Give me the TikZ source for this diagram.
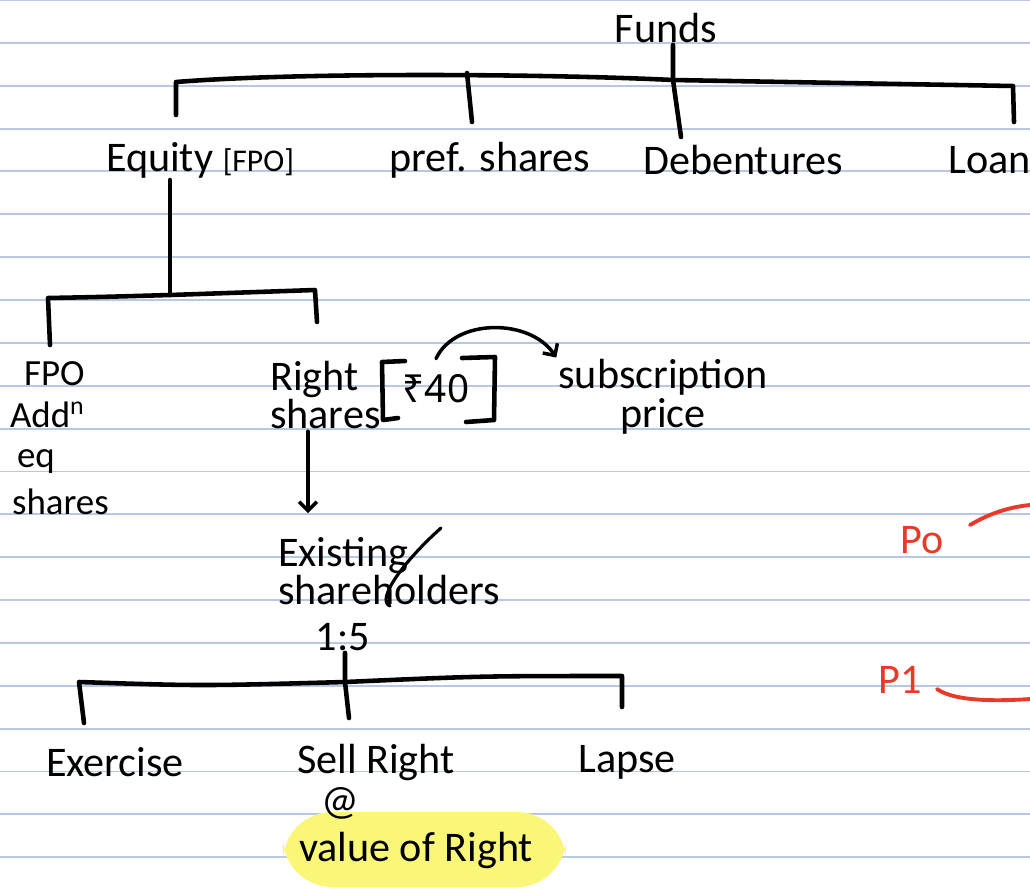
\documentclass[tikz,border=0pt]{standalone}
\usepackage{fontspec}
\setmainfont{Carlito}
\newfontfamily\rupeefont{Noto Sans}
\usetikzlibrary{arrows.meta}
\definecolor{ruleblue}{RGB}{184,200,226}
\definecolor{penred}{RGB}{232,58,40}
\definecolor{marker}{RGB}{250,247,120}
\tikzset{
  hand/.style={font=\fontsize{24}{22}\selectfont, inner sep=1pt},
  smallhand/.style={font=\fontsize{21}{22}\selectfont, inner sep=1pt, anchor=west},
  ink/.style={line width=2.6pt},
  redpen/.style={penred, line width=2.2pt},
}
\begin{document}
\begin{tikzpicture}[x=0.02cm, y=-0.02cm, line join=round, line cap=round, >={Straight Barb[length=5pt]}]
  \useasboundingbox (0,0) rectangle (1030,890);
  \fill[white] (0,0) rectangle (1030,890);
  % ruled paper
  \foreach \k in {0,...,20}
    \draw[ruleblue, line width=1.1pt] (0,\k*42.86) -- (1030,\k*42.86);
  % sources of funds
  \node[hand] (funds) at (666,28) {Funds};
  \node[hand] (equity) at (200,160) {Equity {\fontsize{18}{18}\selectfont[FPO]}};
  \node[hand] (pref) at (490,160) {pref. shares};
  \node[hand] (deb) at (743,160) {Debentures};
  \node[hand] (loan) at (990,160) {Loan};
  \coordinate (fj) at (673,80);
  \draw[ink] (funds.south -| fj) -- (fj) -- (681,137);
  \draw[ink] (176,115) -- (176,82) .. controls (300,72) and (550,74) .. (fj) -- (1013,86) -- (1014,122);
  \draw[ink] (467,73) -- (472,122);
  % equity split
  \coordinate (ej) at (170,295);
  \draw[ink] (equity.south -| ej) -- (ej);
  \draw[ink] (50,345) -- (48,298) .. controls (100,297) .. (ej) -- (315,290) -- (317,322);
  \node[smallhand] (fpo) at (22,374) {FPO};
  \node[smallhand] (addn) at (8,415) {Add\textsuperscript{n}};
  \node[smallhand] (eq) at (15,461) {eq};
  \node[smallhand] (fposh) at (10,502) {shares};
  \node[hand, align=left, anchor=west] (right) at (268,395) {Right\\shares};
  \node[hand, font=\fontsize{22}{22}\rupeefont] (rupee) at (436,389) {₹40};
  \draw[ink] (405,361) -- (382,362) -- (383,420) -- (398,418);
  \draw[ink] (462,358) -- (495,357) -- (494,420) -- (466,422);
  \node[hand, align=center] (sub) at (663,397) {subscription\\price};
  \draw[ink, line width=2pt, ->] ([yshift=8pt]rupee.north) .. controls (455,318) and (530,318) .. (sub.north west);
  % rights issue
  \node[hand, align=left, anchor=west] (exist) at (276,571) {Existing\\shareholders};
  \coordinate (exarrow) at (308,513);
  \draw[ink, line width=2pt, ->] (right.south -| exarrow) -- (exarrow);
  \draw[line width=1.8pt] (441,528) .. controls (405,560) and (375,600) .. (390,606);
  \node[hand] (ratio) at (343,637) {1:5};
  \coordinate (sj) at (345,682);
  \draw[ink] (ratio.south -| sj) -- (sj) -- (349,718);
  \draw[ink] (84,723) -- (79,682) .. controls (200,686) .. (sj) .. controls (480,676) .. (622,676) -- (622,707);
  \node[hand] (exer) at (115,762) {Exercise};
  \node[hand] (sell) at (376,762) {Sell Right};
  \node[hand] (lapse) at (627,762) {Lapse};
  \fill[marker, rounded corners=28] (283,812) rectangle (566,887);
  \node[hand] (at) at (340,803) {@};
  \node[hand] (value) at (416,850) {value of Right};
  % prices
  \node[hand, penred] (p0) at (922,540) {Po};
  \node[hand, penred] (p1) at (900,680) {P1};
  \draw[redpen] (970,525) .. controls (990,513) and (1010,507) .. (1030,505);
  \draw[redpen] (937,689) .. controls (955,702) and (1000,701) .. (1030,699);
\end{tikzpicture}
\end{document}
